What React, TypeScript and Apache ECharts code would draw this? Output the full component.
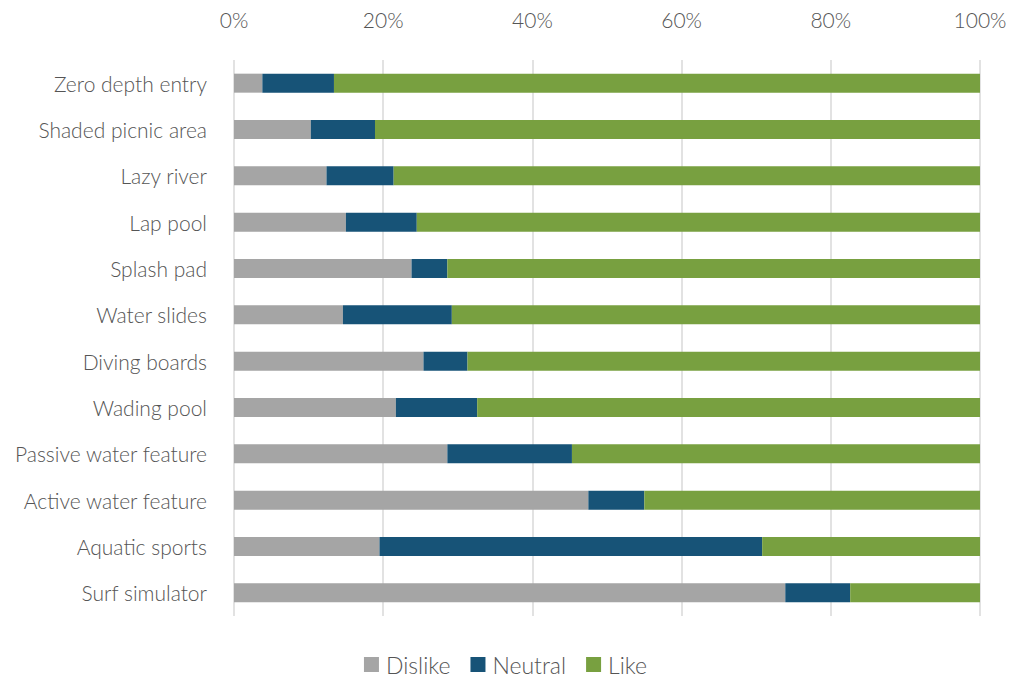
import React, { useEffect, useRef } from "react";
import * as echarts from "echarts";

const categories = [
  "Zero depth entry",
  "Shaded picnic area",
  "Lazy river",
  "Lap pool",
  "Splash pad",
  "Water slides",
  "Diving boards",
  "Wading pool",
  "Passive water feature",
  "Active water feature",
  "Aquatic sports",
  "Surf simulator",
];
const dislike = [3.8, 10.3, 12.4, 15.0, 23.8, 14.6, 25.4, 21.7, 28.6, 47.5, 19.5, 73.9];
const neutral = [9.6, 8.6, 9.0, 9.5, 4.8, 14.6, 5.9, 10.9, 16.7, 7.5, 51.3, 8.7];
const like = [86.6, 81.1, 78.6, 75.5, 71.4, 70.8, 68.7, 67.4, 54.7, 45.0, 29.2, 17.4];
const xTicks = [0, 20, 40, 60, 80, 100];

const FONT = "Lato";
const TEXT = "#555555";

export default function App() {
  const ref = useRef<HTMLDivElement>(null);
  useEffect(() => {
    if (!ref.current) return;
    const chart = echarts.init(ref.current, undefined, { renderer: "svg" });
    const mk = (name: string, data: number[], color: string) => ({
      name,
      type: "bar",
      stack: "total",
      barWidth: 19,
      data,
      itemStyle: { color },
    });
    chart.setOption({
      animation: false,
      textStyle: { fontFamily: FONT },
      grid: { left: 234, right: 31, top: 60, bottom: 66, containLabel: false },
      legend: {
        bottom: 1,
        left: "center",
        itemWidth: 15,
        itemHeight: 15,
        itemGap: 20,
        icon: "rect",
        textStyle: { fontFamily: FONT, fontSize: 23, color: TEXT, fontWeight: 300, padding: [0, 0, 0, 2] },
        data: ["Dislike", "Neutral", "Like"],
      },
      xAxis: {
        type: "value",
        position: "top",
        min: xTicks[0],
        max: xTicks[xTicks.length - 1],
        interval: 20,
        axisLine: { show: false },
        axisTick: { show: false },
        splitLine: { show: true, lineStyle: { color: "#D9D9D9", width: 1.5 } },
        axisLabel: {
          formatter: (v: number) => v + "%",
          fontFamily: FONT,
          fontSize: 21,
          fontWeight: 300,
          color: TEXT,
          margin: 30,
        },
      },
      yAxis: {
        type: "category",
        inverse: true,
        data: categories,
        axisLine: { show: false },
        axisTick: { show: false },
        axisLabel: {
          fontFamily: FONT,
          fontSize: 21,
          fontWeight: 300,
          color: TEXT,
          margin: 27,
          padding: [0, 0, 2, 0],
        },
      },
      series: [
        mk("Dislike", dislike, "#A5A5A5"),
        mk("Neutral", neutral, "#175377"),
        mk("Like", like, "#78A040"),
      ],
    });
    return () => chart.dispose();
  }, []);
  return <div ref={ref} style={{ width: 1011, height: 682, position: "absolute", left: 0, top: 0 }} />;
}
